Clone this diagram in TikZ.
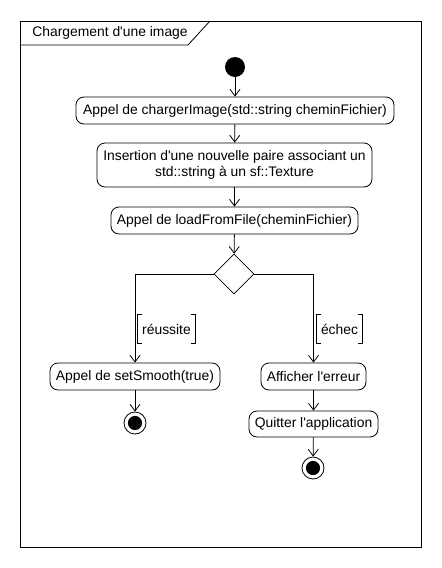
\documentclass[tikz,border=0pt]{standalone}
\usepackage{fontspec}
\setmainfont{Liberation Sans}
\usepackage{tikz}
\usetikzlibrary{arrows.meta, positioning, shapes.geometric, calc}

\tikzset{
  action/.style={draw, rounded corners=6pt, minimum height=20.25pt, inner sep=1pt, align=center},
  initial/.style={circle, fill=black, minimum size=15pt, inner sep=0pt},
  final/.style={circle, draw, minimum size=16.5pt, inner sep=0pt,
    path picture={\fill (path picture bounding box.center) circle (5.3pt);}},
  decision/.style={diamond, draw, minimum width=30pt, minimum height=30pt, inner sep=0pt},
  guard/.style={minimum height=21pt, inner sep=0pt},
  flow/.style={-{Straight Barb[length=5pt,width=7.5pt]}}
}

\begin{document}
\begin{tikzpicture}[x=0.75pt, y=-0.75pt, line width=0.6pt, font=\fontsize{10.4}{12.6}\selectfont]
          \useasboundingbox (0,0) rectangle (442,568);
          \draw (20,21) rectangle (421,547);
          \node[anchor=west, inner sep=0pt] (title) at (32,33) {Chargement d\textquotesingle une image};
          \draw (20,45) -- (188,45) -- (210,21);

          \node[initial] (start) at (235,67) {};
          \node[action, minimum width=238.5pt] (appel) at (235,110.5) {Appel de chargerImage(std::string cheminFichier)};
          \node[action, minimum width=206.25pt, minimum height=33pt] (insert) at (234.5,165) {Insertion d\textquotesingle une nouvelle paire associant un\\std::string à un sf::Texture};
          \node[action, minimum width=185.25pt] (load) at (234.5,220.5) {Appel de loadFromFile(cheminFichier)};
          \node[decision] (test) at (234,274) {};
          \node[action, minimum width=127.5pt] (smooth) at (135,376.5) {Appel de setSmooth(true)};
          \node[action, minimum width=78.75pt] (erreur) at (313.5,376.5) {Afficher l\textquotesingle erreur};
          \node[action, minimum width=96.75pt, minimum height=19.5pt] (quitter) at (313.5,424) {Quitter l\textquotesingle application};
          \node[final] (fin1) at (135,423) {};
          \node[final] (fin2) at (313,468) {};

          \node[guard, minimum width=42.75pt] (ok) at (166.5,329) {réussite};
          \node[guard, minimum width=33.75pt] (ko) at (339.5,329) {échec};
          \foreach \g in {ok,ko} {
            \draw ([xshift=3pt]\g.north west) -- (\g.north west) -- (\g.south west) -- ([xshift=3pt]\g.south west);
            \draw ([xshift=-3pt]\g.north east) -- (\g.north east) -- (\g.south east) -- ([xshift=-3pt]\g.south east);
          }

          \draw[flow] (start) -- (appel);
          \draw[flow] (appel) -- (insert);
          \draw[flow] (insert) -- (load);
          \draw[flow] (load) -- (test);
          \draw[flow] (test.west) -| (smooth);
          \draw[flow] (test.east) -| (erreur);
          \draw[flow] (smooth) -- (fin1);
          \draw[flow] (erreur) -- (quitter);
          \draw[flow] (quitter) -- (fin2);
        \end{tikzpicture}
\end{document}
